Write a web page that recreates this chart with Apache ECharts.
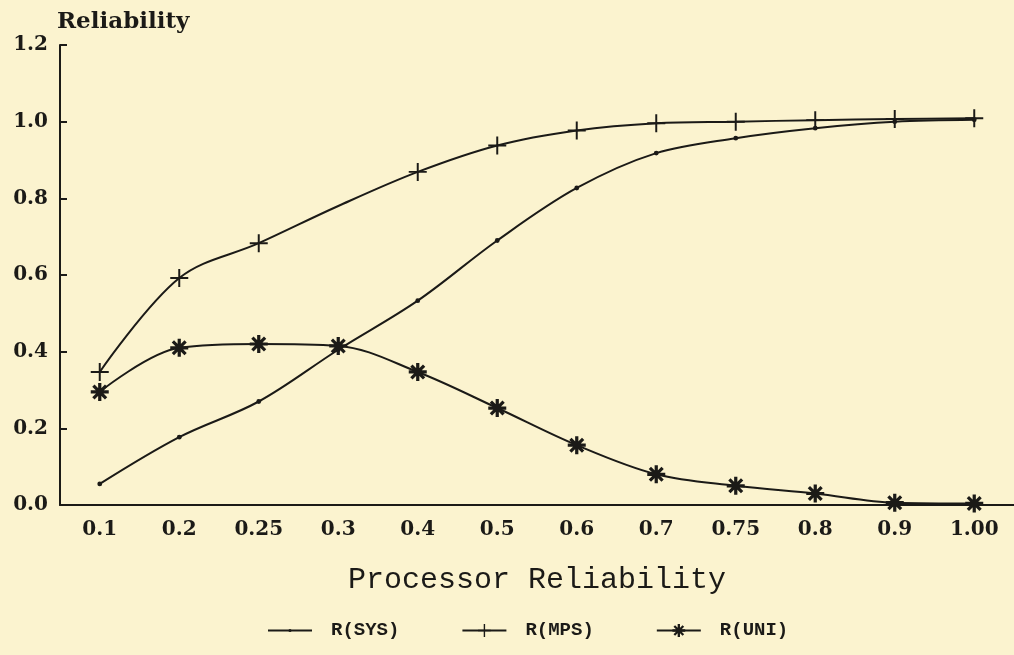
<!DOCTYPE html>
<html>
<head>
<meta charset="utf-8">
<script src="https://cdn.jsdelivr.net/npm/echarts@6/dist/echarts.min.js"></script>
<style>
  html, body { margin: 0; padding: 0; background: #fbf3cf; }
  #chart { width: 1014px; height: 655px; }
</style>
</head>
<body>
<div id="chart"></div>
<script>
// 处理器可靠性 vs 系统可靠性（三条曲线）
const categories = ['0.1', '0.2', '0.25', '0.3', '0.4', '0.5', '0.6', '0.7', '0.75', '0.8', '0.9', '1.00'];
const rSys = [0.055, 0.177, 0.27, 0.405, 0.533, 0.69, 0.827, 0.918, 0.957, 0.983, 1.0, 1.005];
const rMps = [0.347, 0.592, 0.683, 0.78, 0.869, 0.938, 0.977, 0.996, 1.0, 1.004, 1.007, 1.009];
const rUni = [0.295, 0.41, 0.42, 0.415, 0.347, 0.253, 0.156, 0.08, 0.05, 0.03, 0.006, 0.004];
const seriesNames = ['R(SYS)', 'R(MPS)', 'R(UNI)'];

const INK = '#1b1a17';

// 细长矩形（旋转 deg 度）拼成十字 / 星号
function bar(deg, L, h) {
  const a = deg * Math.PI / 180, c = Math.cos(a), s = Math.sin(a);
  const p = [[-L, -h], [L, -h], [L, h], [-L, h]].map(([x, y]) =>
    (x * c - y * s).toFixed(2) + ',' + (x * s + y * c).toFixed(2));
  return 'M' + p.join(' L') + ' Z';
}
const plusPath = 'path://' + [0, 90].map(d => bar(d, 10, 1.1)).join(' ');
const starPath = 'path://' + [0, 45, 90, 135].map(d => bar(d, 10, 1.8)).join(' ');
// 小圆点放在 ±10 的空包围盒里，图例里也保持小点
const dotPath = 'path://M-10,-10 L-10,-10 M10,10 L10,10 M-2.4,0 A2.4,2.4 0 1 0 2.4,0 A2.4,2.4 0 1 0 -2.4,0 Z';

function line(name, data, symbol, size, hide) {
  return {
    name, type: 'line', data: data.map((v, i) =>
      hide === i ? { value: v, symbol: 'none' } : v),
    smooth: 0.35,
    symbol, symbolSize: size, showAllSymbol: true,
    lineStyle: { color: INK, width: 2 },
    itemStyle: { color: INK },
    emphasis: { disabled: true },
  };
}

const chart = echarts.init(document.getElementById('chart'));
chart.setOption({
  backgroundColor: '#fbf3cf',
  animation: false,
  title: {
    text: 'Reliability', left: 52, top: 6,
    textStyle: { fontFamily: 'DejaVu Serif', fontSize: 23, fontWeight: 'bold', color: INK },
  },
  grid: { left: 60, right: 0, top: 45, bottom: 150 },
  legend: {
    left: 262, bottom: 10,
    itemWidth: 44, itemHeight: 16, itemGap: 62,
    data: seriesNames,
    textStyle: {
      fontFamily: 'Liberation Mono', fontSize: 19, fontWeight: 'bold', color: INK,
      padding: [0, 0, 0, 14],
    },
  },
  xAxis: {
    type: 'category', data: categories,
    name: 'Processor Reliability', nameLocation: 'middle', nameGap: 60,
    nameTextStyle: { fontFamily: 'Liberation Mono', fontSize: 30, color: INK },
    axisLine: { lineStyle: { color: INK, width: 2 } },
    axisTick: { inside: true, length: 12, alignWithLabel: true, lineStyle: { color: INK, width: 2 } },
    axisLabel: { fontFamily: 'DejaVu Serif', fontSize: 20, fontWeight: 'bold', color: INK, margin: 15 },
    splitLine: { show: false },
  },
  yAxis: {
    type: 'value', min: 0, max: 1.2, interval: 0.2,
    axisLine: { show: true, lineStyle: { color: INK, width: 2 } },
    axisTick: { show: true, inside: true, length: 7, lineStyle: { color: INK, width: 2 } },
    axisLabel: {
      fontFamily: 'DejaVu Serif', fontSize: 20, fontWeight: 'bold', color: INK, margin: 12,
      formatter: v => v.toFixed(1),
    },
    splitLine: { show: false },
  },
  series: [
    line(seriesNames[0], rSys, dotPath, 20),
    line(seriesNames[1], rMps, plusPath, 18, 3),
    line(seriesNames[2], rUni, starPath, 18),
  ],
});
</script>
</body>
</html>
